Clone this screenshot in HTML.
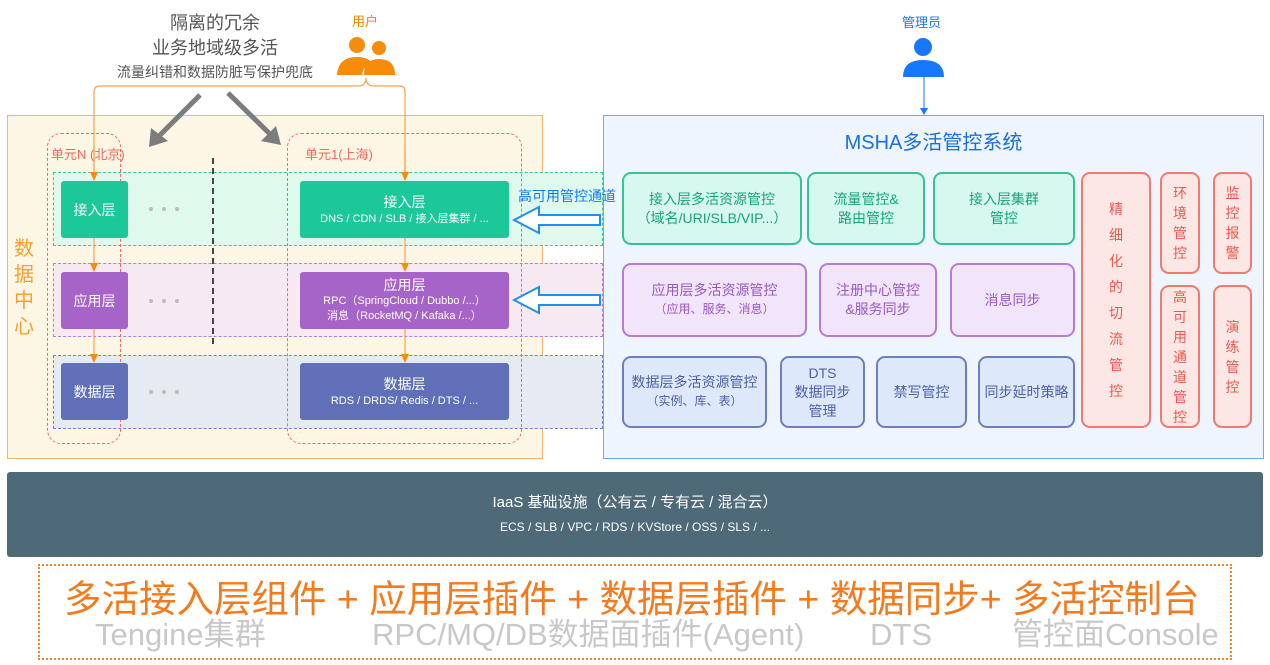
<!DOCTYPE html>
<html><head><meta charset="utf-8"><style>
*{margin:0;padding:0;box-sizing:border-box}
body{width:1270px;height:665px;background:#fff;position:relative;overflow:hidden;font-family:"Liberation Sans","Noto Sans CJK SC",sans-serif}
.a{position:absolute}
.c{display:flex;align-items:center;justify-content:center;text-align:center;flex-direction:column}
.lb{color:#fff;border-radius:3px}
.g{background:#d7f8ef;border:2px solid #33c394;color:#14a578;border-radius:9px;font-size:14px;line-height:19px}
.p{background:#f0e5fb;border:2px solid #b77bd6;color:#9a58c3;border-radius:9px;font-size:14px;line-height:19px}
.b{background:#dde8fa;border:2px solid #6d7ec0;color:#4d5fa8;border-radius:9px;font-size:14px;line-height:19px}
.r{background:#fde7e4;border:2px solid #f07a70;color:#ea5a50;border-radius:9px;font-size:14px;line-height:20px}
.s{font-size:11px;line-height:15px}
.gt{color:#c8c8c8;font-size:30px;line-height:36px;white-space:nowrap;top:617px}
</style></head><body>
<!-- top text -->
<div class="a c" style="left:90px;top:11px;width:250px;color:#555;font-size:18px;line-height:25px">隔离的冗余<br>业务地域级多活<div style="font-size:14px;line-height:22px">流量纠错和数据防脏写保护兜底</div></div>
<div class="a" style="left:352px;top:11px;color:#f08300;font-size:13px">用户</div>
<div class="a" style="left:902px;top:12px;color:#1677ff;font-size:13px">管理员</div>
<!-- data center -->
<div class="a" style="left:7px;top:115px;width:536px;height:344px;background:#fdf6e4;border:1.5px solid #f5b46b"></div>
<div class="a" style="left:14px;top:236px;width:22px;color:#f5a030;font-size:20px;line-height:26px">数据中心</div>
<div class="a" style="left:603px;top:115px;width:661px;height:344px;background:#eef5fe;border:1.5px solid #6fa8f0"></div>
<svg class="a" style="left:0;top:0" width="1270" height="665">
<circle cx="357" cy="45" r="8" fill="#f78c0a"/><path d="M337 75 Q338 57 357 57 Q368 57 372 63 Q363 66 362 75 Z" fill="#f78c0a"/>
<circle cx="379" cy="48" r="7" fill="#f78c0a"/><path d="M364 75 Q364 59 379 59 Q395 59 395 75 Z" fill="#f78c0a"/>
<path d="M366 78 Q366 86 358 86 L100 86 Q94 86 94 92 L94 178" fill="none" stroke="#f5a34c" stroke-width="1.2"/>
<path d="M366 78 Q366 86 374 86 L400 86 Q405 86 405 92 L405 178" fill="none" stroke="#f5a34c" stroke-width="1.2"/>
<path d="M200 95 L155 140" stroke="#7c7c7c" stroke-width="5"/><polygon points="149,147 151,128 168,141" fill="#7c7c7c"/>
<path d="M228 93 L274 138" stroke="#7c7c7c" stroke-width="5"/><polygon points="281,145 261,141 276,126" fill="#7c7c7c"/>
<circle cx="923" cy="47" r="9" fill="#1677ff"/><path d="M903 77 Q903 60 923 60 Q944 60 944 77 Z" fill="#1677ff"/>
<line x1="924" y1="77" x2="924" y2="110" stroke="#1677ff"/><polygon points="920,108 928,108 924,115" fill="#1677ff"/>
</svg>
<!-- bands -->
<div class="a" style="left:53px;top:172px;width:550px;height:74px;background:#dff9ed;border:1px dashed #3cc797"></div>
<div class="a" style="left:53px;top:263px;width:550px;height:74px;background:#f6e9f2;border:1px dashed #b47fd8"></div>
<div class="a" style="left:53px;top:355px;width:550px;height:74px;background:#e5ebf0;border:1px dashed #7580cf"></div>
<div class="a" style="left:47px;top:133px;width:74px;height:311px;border:1.3px dashed #f26a6a;border-radius:14px"></div>
<div class="a" style="left:287px;top:133px;width:235px;height:311px;border:1.3px dashed #f26a6a;border-radius:14px"></div>
<div class="a" style="left:51px;top:144px;color:#f06a60;font-size:13px">单元N (北京)</div>
<div class="a" style="left:305px;top:144px;color:#f06a60;font-size:13px">单元1(上海)</div>
<div class="a" style="left:212px;top:158px;height:186px;border-left:2px dashed #444"></div>
<svg class="a" style="left:0;top:0" width="620" height="460">
<g stroke="#f5a34c" stroke-width="1.2"><line x1="94" y1="237" x2="94" y2="268"/><line x1="94" y1="329" x2="94" y2="359"/><line x1="405" y1="237" x2="405" y2="268"/><line x1="405" y1="329" x2="405" y2="359"/><line x1="94" y1="145" x2="94" y2="178"/><line x1="405" y1="145" x2="405" y2="178"/></g>
<g fill="#f78c0a"><polygon points="90,172 98,172 94,181"/><polygon points="90,263 98,263 94,272"/><polygon points="90,354 98,354 94,363"/><polygon points="401,172 409,172 405,181"/><polygon points="401,263 409,263 405,272"/><polygon points="401,354 409,354 405,363"/></g>
<g fill="#bbb"><circle cx="151" cy="209" r="2"/><circle cx="164" cy="209" r="2"/><circle cx="177" cy="209" r="2"/><circle cx="151" cy="301" r="2"/><circle cx="164" cy="301" r="2"/><circle cx="177" cy="301" r="2"/><circle cx="151" cy="392" r="2"/><circle cx="164" cy="392" r="2"/><circle cx="177" cy="392" r="2"/></g>
<path d="M514 220 L539 207 L539 215 L600 215 L600 225 L539 225 L539 233 Z" fill="#fff" stroke="#1f8ff0" stroke-width="2"/>
<path d="M514 300 L539 287 L539 295 L600 295 L600 305 L539 305 L539 313 Z" fill="#fff" stroke="#1f8ff0" stroke-width="2"/>
</svg>
<div class="a" style="left:518px;top:186px;color:#1677ff;font-size:14px">高可用管控通道</div>
<div class="a c lb" style="left:61px;top:181px;width:67px;height:57px;background:#1cc89a;font-size:14px">接入层</div>
<div class="a c lb" style="left:61px;top:272px;width:67px;height:57px;background:#a663c8;font-size:14px">应用层</div>
<div class="a c lb" style="left:61px;top:363px;width:67px;height:57px;background:#5f70b8;font-size:14px">数据层</div>
<div class="a c lb" style="left:300px;top:181px;width:209px;height:57px;background:#1cc89a;font-size:14px">接入层<div class="s">DNS / CDN / SLB / 接入层集群 / ...</div></div>
<div class="a c lb" style="left:300px;top:272px;width:209px;height:57px;background:#a663c8;font-size:14px;line-height:17px">应用层<div class="s">RPC（SpringCloud / Dubbo /...）<br>消息（RocketMQ / Kafaka /...）</div></div>
<div class="a c lb" style="left:300px;top:363px;width:209px;height:57px;background:#5f70b8;font-size:14px">数据层<div class="s">RDS / DRDS/ Redis / DTS / ...</div></div>
<!-- MSHA -->
<div class="a" style="left:603px;top:126px;width:661px;text-align:center;color:#1a6fe0;font-size:20px">MSHA多活管控系统</div>
<div class="a c g" style="left:622px;top:172px;width:180px;height:73px">接入层多活资源管控<br>（域名/URI/SLB/VIP...）</div>
<div class="a c g" style="left:807px;top:172px;width:118px;height:73px">流量管控&amp;<br>路由管控</div>
<div class="a c g" style="left:933px;top:172px;width:142px;height:73px">接入层集群<br>管控</div>
<div class="a c p" style="left:622px;top:263px;width:185px;height:74px">应用层多活资源管控<div style="font-size:12px">（应用、服务、消息）</div></div>
<div class="a c p" style="left:819px;top:263px;width:118px;height:74px">注册中心管控<br>&amp;服务同步</div>
<div class="a c p" style="left:950px;top:263px;width:125px;height:74px">消息同步</div>
<div class="a c b" style="left:622px;top:356px;width:145px;height:72px">数据层多活资源管控<div style="font-size:12px">（实例、库、表）</div></div>
<div class="a c b" style="left:780px;top:356px;width:85px;height:72px">DTS<br>数据同步<br>管理</div>
<div class="a c b" style="left:876px;top:356px;width:91px;height:72px">禁写管控</div>
<div class="a c b" style="left:978px;top:356px;width:97px;height:72px">同步延时策略</div>
<div class="a c r" style="left:1081px;top:172px;width:70px;height:256px;line-height:26px;font-size:14px"><div style="width:16px">精细化的切流管控</div></div>
<div class="a c r" style="left:1160px;top:172px;width:40px;height:102px"><div style="width:16px">环境管控</div></div>
<div class="a c r" style="left:1160px;top:285px;width:40px;height:143px;line-height:20px"><div style="width:16px">高可用通道管控</div></div>
<div class="a c r" style="left:1213px;top:172px;width:39px;height:102px"><div style="width:16px">监控报警</div></div>
<div class="a c r" style="left:1213px;top:285px;width:39px;height:143px"><div style="width:16px">演练管控</div></div>
<!-- IaaS -->
<div class="a c" style="left:7px;top:472px;width:1256px;height:85px;background:#4e6a78;border-radius:3px;color:#fff;font-size:15px;line-height:24px">IaaS 基础设施（公有云 / 专有云 / 混合云）<div style="font-size:12px">ECS / SLB / VPC / RDS / KVStore / OSS / SLS / ...</div></div>
<div class="a" style="left:38px;top:564px;width:1194px;height:96px;border:2px dotted #f5852a"></div>
<div class="a" style="left:64px;top:576px;white-space:nowrap;color:#f47a1e;font-size:37.5px;line-height:46px">多活接入层组件 + 应用层插件 + 数据层插件 + 数据同步+ 多活控制台</div>
<div class="a gt" style="left:95px;font-size:31px">Tengine集群</div>
<div class="a gt" style="left:372px;font-size:31px">RPC/MQ/DB数据面插件(Agent)</div>
<div class="a gt" style="left:870px;font-size:31px">DTS</div>
<div class="a gt" style="left:1012px;font-size:31px">管控面Console</div>
</body></html>
